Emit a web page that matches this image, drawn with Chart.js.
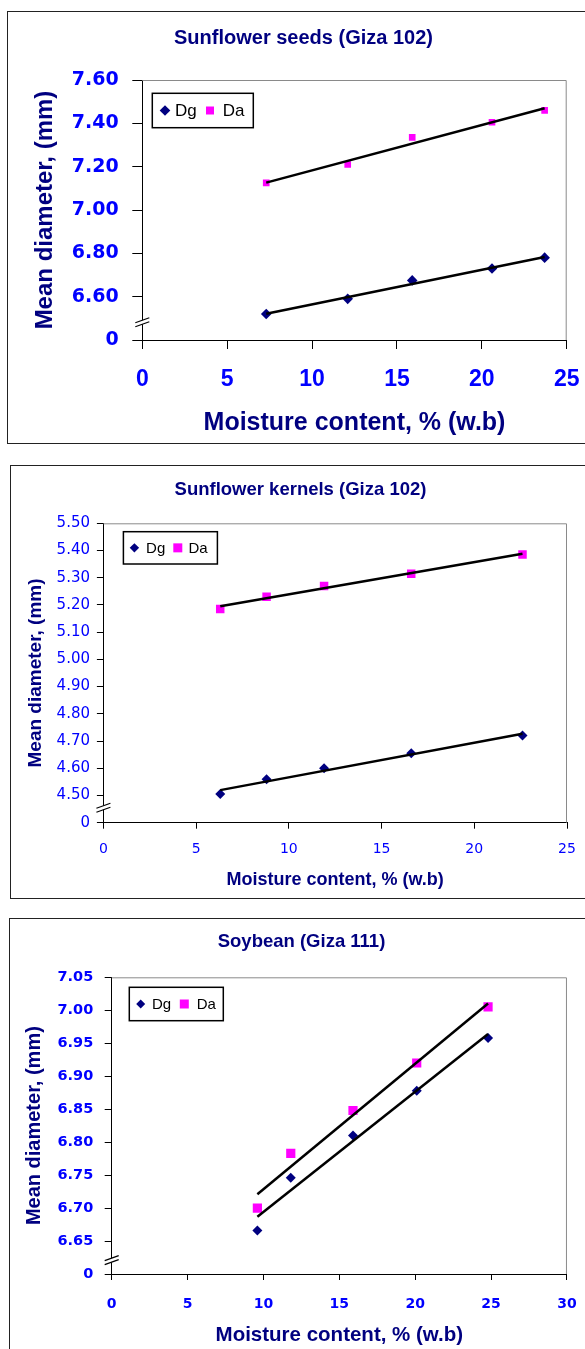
<!DOCTYPE html>
<html><head><meta charset="utf-8">
<script src="https://cdn.jsdelivr.net/npm/chart.js@4.4.1/dist/chart.umd.min.js"></script>
<style>
html,body{margin:0;padding:0;background:#fff;width:585px;height:1349px;overflow:hidden;position:relative}
.box{position:absolute;border:1px solid #222;background:#fff}
.box canvas{display:block}
</style></head><body>
<div class="box" style="left:7px;top:11px;width:591px;height:431px"><canvas id="c1" width="591" height="431"></canvas></div>
<div class="box" style="left:10px;top:465px;width:579px;height:432px"><canvas id="c2" width="579" height="432"></canvas></div>
<div class="box" style="left:9px;top:918px;width:583px;height:440px"><canvas id="c3" width="583" height="440"></canvas></div>
<script>
// ---------- DATA ----------
const seriesNames = ['Dg', 'Da'];
const xTitle = 'Moisture content, % (w.b)';
const yTitle = 'Mean diameter, (mm)';

// Chart 1: Sunflower seeds (Giza 102)
const title1 = 'Sunflower seeds (Giza 102)';
const moisture1 = [7.3, 12.1, 15.9, 20.6, 23.7];
const dg1 = [6.52, 6.59, 6.675, 6.73, 6.78];
const da1 = [7.125, 7.21, 7.335, 7.405, 7.46];
const xTicks1 = [0, 5, 10, 15, 20, 25];
const yTicks1 = [6.4, 6.6, 6.8, 7.0, 7.2, 7.4, 7.6];
const yTickLabels1 = ['0', '6.60', '6.80', '7.00', '7.20', '7.40', '7.60'];

// Chart 2: Sunflower kernels (Giza 102)
const title2 = 'Sunflower kernels (Giza 102)';
const moisture2 = [6.3, 8.8, 11.9, 16.6, 22.6];
const dg2 = [4.505, 4.56, 4.60, 4.655, 4.72];
const da2 = [5.185, 5.23, 5.27, 5.315, 5.385];
const xTicks2 = [0, 5, 10, 15, 20, 25];
const yTicks2 = [4.4, 4.5, 4.6, 4.7, 4.8, 4.9, 5.0, 5.1, 5.2, 5.3, 5.4, 5.5];
const yTickLabels2 = ['0', '4.50', '4.60', '4.70', '4.80', '4.90', '5.00', '5.10', '5.20', '5.30', '5.40', '5.50'];

// Chart 3: Soybean (Giza 111)
const title3 = 'Soybean (Giza 111)';
const moisture3 = [9.6, 11.8, 15.9, 20.1, 24.8];
const dg3 = [6.666, 6.746, 6.81, 6.878, 6.958];
const da3 = [6.70, 6.783, 6.848, 6.92, 7.005];
const xTicks3 = [0, 5, 10, 15, 20, 25, 30];
const yTicks3 = [6.60, 6.65, 6.70, 6.75, 6.80, 6.85, 6.90, 6.95, 7.00, 7.05];
const yTickLabels3 = ['0', '6.65', '6.70', '6.75', '6.80', '6.85', '6.90', '6.95', '7.00', '7.05'];

// ---------- HELPERS ----------
const NAVY = '#000080', BLUE = '#0000FF', PINK = '#FF00FF';
const ARIAL = '"Liberation Sans", Arial, sans-serif';
const DEJAVU = '"DejaVu Sans", Verdana, sans-serif';

function linFit(xs, ys) {
  const n = xs.length;
  const mx = xs.reduce((a, b) => a + b, 0) / n;
  const my = ys.reduce((a, b) => a + b, 0) / n;
  let sxy = 0, sxx = 0;
  for (let i = 0; i < n; i++) { sxy += (xs[i] - mx) * (ys[i] - my); sxx += (xs[i] - mx) ** 2; }
  const b = sxy / sxx, a = my - b * mx;
  const x0 = Math.min(...xs), x1 = Math.max(...xs);
  return [{x: x0, y: a + b * x0}, {x: x1, y: a + b * x1}];
}
const pts = (xs, ys) => xs.map((x, i) => ({x, y: ys[i]}));

const frameAndBreak = {
  id: 'frameAndBreak',
  beforeDatasetsDraw(chart) {
    const {ctx, chartArea: a} = chart;
    ctx.save();
    ctx.strokeStyle = '#8a8a8a'; ctx.lineWidth = 1;
    ctx.beginPath();
    ctx.moveTo(a.left, a.top + 0.5); ctx.lineTo(a.right - 0.5, a.top + 0.5); ctx.lineTo(a.right - 0.5, a.bottom);
    ctx.stroke();
    ctx.restore();
  },
  afterDraw(chart, args, opts) {
    const {ctx, chartArea: a} = chart;
    const ys = chart.scales.y;
    const yb = ys.getPixelForValue(opts.breakValue);
    const x = a.left, w = opts.w, h = opts.h, g = opts.gap;
    ctx.save();
    ctx.fillStyle = '#fff';
    ctx.beginPath();
    ctx.moveTo(x - w / 2, yb + h / 2 + g / 2);
    ctx.lineTo(x + w / 2, yb - h / 2 + g / 2);
    ctx.lineTo(x + w / 2, yb - h / 2 - g / 2);
    ctx.lineTo(x - w / 2, yb + h / 2 - g / 2);
    ctx.closePath(); ctx.fill();
    ctx.strokeStyle = '#000'; ctx.lineWidth = 1.2;
    for (const s of [1, -1]) {
      ctx.beginPath();
      ctx.moveTo(x - w / 2, yb + h / 2 + s * g / 2);
      ctx.lineTo(x + w / 2, yb - h / 2 + s * g / 2);
      ctx.stroke();
    }
    ctx.restore();
  }
};

const insideLegend = {
  id: 'insideLegend',
  afterDraw(chart, args, o) {
    const {ctx, chartArea: a} = chart;
    const bx = a.left + o.dx, by = a.top + o.dy;
    ctx.save();
    ctx.fillStyle = '#fff';
    ctx.fillRect(bx, by, o.w, o.h);
    ctx.strokeStyle = '#000'; ctx.lineWidth = 1.5;
    ctx.strokeRect(bx, by, o.w, o.h);
    const cy = by + o.h / 2;
    const ds = chart.data.datasets.filter(d => d.isSeries);
    ds.forEach((d, i) => {
      const it = o.items[i];
      ctx.fillStyle = d.backgroundColor;
      ctx.beginPath();
      if (d.pointStyle === 'rectRot') {
        const r = it.r;
        ctx.moveTo(bx + it.mx - r, cy); ctx.lineTo(bx + it.mx, cy - r);
        ctx.lineTo(bx + it.mx + r, cy); ctx.lineTo(bx + it.mx, cy + r);
      } else {
        const r = it.r;
        ctx.rect(bx + it.mx - r, cy - r, 2 * r, 2 * r);
      }
      ctx.closePath(); ctx.fill();
      ctx.fillStyle = '#000';
      ctx.font = o.font;
      ctx.textBaseline = 'middle'; ctx.textAlign = 'left';
      ctx.fillText(d.label, bx + it.tx, cy + 1);
    });
    ctx.restore();
  }
};

function makeChart(id, c) {
  const datasets = [
    {type: 'scatter', label: seriesNames[0], isSeries: true, data: pts(c.x, c.dg), pointStyle: 'rectRot',
     pointRadius: c.dgR, backgroundColor: NAVY, borderColor: NAVY, borderWidth: 0, order: 2},
    {type: 'scatter', label: seriesNames[1], isSeries: true, data: pts(c.x, c.da), pointStyle: 'rect',
     pointRadius: c.daR, backgroundColor: PINK, borderColor: PINK, borderWidth: 0, order: 2},
    {type: 'line', label: 'trend Dg', data: linFit(c.x, c.dg), borderColor: '#000', borderWidth: 2.5,
     pointRadius: 0, fill: false, order: 1},
    {type: 'line', label: 'trend Da', data: linFit(c.x, c.da), borderColor: '#000', borderWidth: 2.5,
     pointRadius: 0, fill: false, order: 1}
  ];
  return new Chart(document.getElementById(id), {
    data: {datasets},
    plugins: [frameAndBreak, insideLegend],
    options: {
      responsive: false, animation: false, devicePixelRatio: 1,
      layout: {padding: {left: c.padSide, right: c.padSide, top: 0, bottom: 0}},
      plugins: {
        legend: {display: false}, tooltip: {enabled: false},
        title: {display: true, text: c.title, color: NAVY,
          font: {family: ARIAL, size: c.titleSize, weight: 'bold'},
          padding: {top: c.titlePadTop, bottom: c.titlePadBottom}},
        frameAndBreak: {breakValue: c.yTicks[0] + (c.yTicks[1] - c.yTicks[0]) * c.breakFrac, w: 14, h: 5, gap: 4},
        insideLegend: c.legend
      },
      scales: {
        x: {type: 'linear', position: 'bottom', min: c.xTicks[0], max: c.xTicks[c.xTicks.length - 1],
          afterBuildTicks: s => { s.ticks = c.xTicks.map(v => ({value: v})); },
          afterFit: s => { s.height = c.xScaleH; },
          grid: {drawOnChartArea: false, drawTicks: true, tickLength: c.xTickLen, color: '#000'},
          border: {display: true, color: '#000', width: 1},
          ticks: {autoSkip: false, maxRotation: 0, color: BLUE, padding: c.xTickPad,
            font: {family: c.xTickFamily, size: c.xTickSize, weight: c.xTickWeight},
            callback: (v) => String(v)},
          title: {display: true, text: xTitle, color: NAVY,
            font: {family: ARIAL, size: c.xTitleSize, weight: 'bold'},
            padding: {top: 0, bottom: c.xTitlePadBottom}}
        },
        y: {type: 'linear', position: 'left', min: c.yTicks[0], max: c.yTicks[c.yTicks.length - 1],
          afterBuildTicks: s => { s.ticks = c.yTicks.map(v => ({value: v})); },
          afterFit: s => { s.width = c.yScaleW; },
          grid: {drawOnChartArea: false, drawTicks: true, tickLength: c.yTickLen, color: '#000'},
          border: {display: true, color: '#000', width: 1},
          ticks: {autoSkip: false, color: BLUE, padding: c.yTickPad,
            font: {family: c.yTickFamily, size: c.yTickSize, weight: c.yTickWeight},
            callback: (v, i) => c.yLabels[i]},
          title: {display: true, text: yTitle, color: NAVY,
            font: {family: ARIAL, size: c.yTitleSize, weight: 'bold'},
            padding: {top: c.yTitlePadTop, bottom: 0}}
        }
      }
    }
  });
}

makeChart('c1', {
  title: title1, x: moisture1, dg: dg1, da: da1, xTicks: xTicks1, yTicks: yTicks1, yLabels: yTickLabels1,
  dgR: 5.3, daR: 4.7, padSide: 32.3, yScaleW: 102, xScaleH: 103,
  titleSize: 20, titlePadTop: 14, titlePadBottom: 30,
  yTickLen: 10, yTickPad: 13.7, yTickFamily: DEJAVU, yTickSize: 19, yTickWeight: 'bold',
  yTitleSize: 24, yTitlePadTop: -9.7,
  xTickLen: 9, xTickPad: 17, xTickFamily: ARIAL, xTickSize: 23, xTickWeight: 'bold',
  xTitleSize: 25, xTitlePadBottom: 4.7, breakFrac: 0.41,
  legend: {dx: 10, dy: 13.3, w: 101, h: 34.4, font: '17px ' + ARIAL,
    items: [{mx: 12.7, tx: 22.7, r: 5.3}, {mx: 57.7, tx: 70.4, r: 4}]}
});

makeChart('c2', {
  title: title2, x: moisture2, dg: dg2, da: da2, xTicks: xTicks2, yTicks: yTicks2, yLabels: yTickLabels2,
  dgR: 5, daR: 6, padSide: 23, yScaleW: 69.4, xScaleH: 75.3,
  titleSize: 18.5, titlePadTop: 12.9, titlePadBottom: 22.2,
  yTickLen: 6.5, yTickPad: 6.9, yTickFamily: DEJAVU, yTickSize: 15, yTickWeight: 'normal',
  yTitleSize: 19, yTitlePadTop: -9.4,
  xTickLen: 6, xTickPad: 12.2, xTickFamily: DEJAVU, xTickSize: 14, xTickWeight: 'normal',
  xTitleSize: 18, xTitlePadBottom: 7.2, breakFrac: 0.55,
  legend: {dx: 20, dy: 8.4, w: 94, h: 32.3, font: '15px ' + ARIAL,
    items: [{mx: 11, tx: 22.7, r: 4.7}, {mx: 54.4, tx: 65, r: 4.5}]}
});

makeChart('c3', {
  title: title3, x: moisture3, dg: dg3, da: da3, xTicks: xTicks3, yTicks: yTicks3, yLabels: yTickLabels3,
  dgR: 5, daR: 6.5, padSide: 25.5, yScaleW: 76.2, xScaleH: 85,
  titleSize: 18.5, titlePadTop: 11.9, titlePadBottom: 24.2,
  yTickLen: 7, yTickPad: 11.4, yTickFamily: DEJAVU, yTickSize: 14.5, yTickWeight: 'bold',
  yTitleSize: 20, yTitlePadTop: -13.5,
  xTickLen: 6, xTickPad: 16.3, xTickFamily: DEJAVU, xTickSize: 14, xTickWeight: 'bold',
  xTitleSize: 20.5, xTitlePadBottom: 11.7, breakFrac: 0.42,
  legend: {dx: 17.6, dy: 10, w: 94, h: 33.4, font: '15px ' + ARIAL,
    items: [{mx: 11.4, tx: 22.7, r: 4.5}, {mx: 55, tx: 67.4, r: 4.5}]}
});
</script>
</body></html>
